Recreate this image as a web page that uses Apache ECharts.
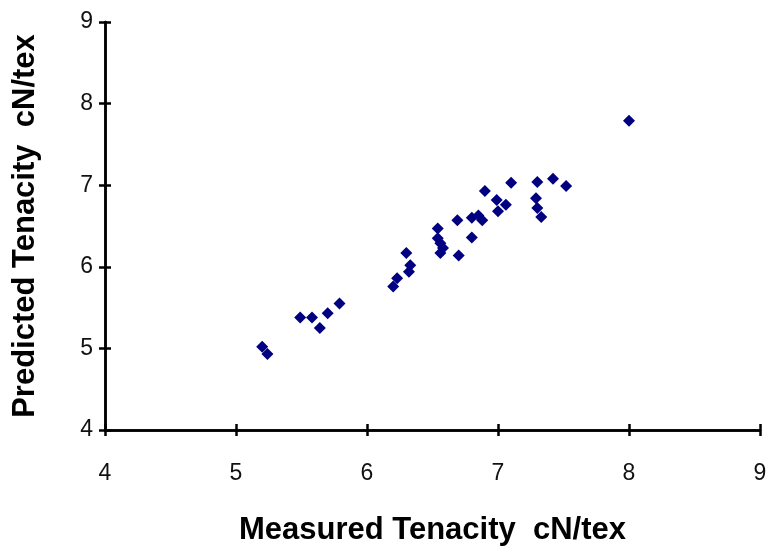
<!DOCTYPE html>
<html>
<head>
<meta charset="utf-8">
<script src="https://cdn.jsdelivr.net/npm/echarts@6/dist/echarts.min.js"></script>
<style>
  html, body { margin: 0; padding: 0; background: #fff; }
  #chart { width: 766px; height: 549px; }
</style>
</head>
<body>
<div id="chart"></div>
<script>
  // measured vs predicted tenacity (cN/tex)
  var measured = [5.20, 5.24, 5.49, 5.58, 5.64, 5.70, 5.79, 6.20, 6.23, 6.30, 6.32, 6.33,
    6.54, 6.54, 6.56, 6.58, 6.56, 6.69, 6.70, 6.80, 6.80, 6.85, 6.88, 6.90, 6.99,
    7.06, 7.00, 7.10, 7.30, 7.42, 7.52, 7.29, 7.30, 7.33, 8.00];
  var predicted = [5.02, 4.93, 5.38, 5.38, 5.25, 5.43, 5.55, 5.76, 5.86, 6.17, 5.94, 6.02,
    6.47, 6.35, 6.29, 6.23, 6.17, 6.57, 6.14, 6.36, 6.60, 6.63, 6.57, 6.93, 6.82,
    6.76, 6.68, 7.03, 7.04, 7.08, 6.99, 6.84, 6.72, 6.61, 7.79];

  var points = measured.map(function (m, i) { return [m, predicted[i]]; });

  var font = 'Liberation Sans, Arial, sans-serif';
  var lineStyle = { color: '#000', width: 2.5 };
  var box = { left: 105, right: 6, top: 22, bottom: 119, containLabel: false, outerBoundsMode: 'none' };

  var myChart = echarts.init(document.getElementById('chart'));
  var option = {
    animation: false,
    // second grid on top of the first only carries the inward half of the ticks
    grid: [box, box],
    xAxis: [
      {
        type: 'value', min: 4, max: 9, interval: 1, gridIndex: 0,
        name: 'Measured Tenacity  cN/tex',
        nameLocation: 'middle', nameGap: 85,
        nameTextStyle: { fontFamily: font, fontSize: 31, fontWeight: 'bold', color: '#000' },
        axisLine: { onZero: false, lineStyle: lineStyle },
        axisTick: { length: 6, lineStyle: lineStyle },
        axisLabel: { fontFamily: font, fontSize: 23, color: '#111', margin: 32 },
        splitLine: { show: false }
      },
      {
        type: 'value', min: 4, max: 9, interval: 1, gridIndex: 1,
        axisLine: { onZero: false, lineStyle: lineStyle },
        axisTick: { inside: true, length: 6, lineStyle: lineStyle },
        axisLabel: { show: false },
        splitLine: { show: false }
      }
    ],
    yAxis: [
      {
        type: 'value', min: 4, max: 9, interval: 1, gridIndex: 0,
        name: 'Predicted Tenacity  cN/tex',
        nameLocation: 'middle', nameGap: 64,
        nameTextStyle: { fontFamily: font, fontSize: 31, fontWeight: 'bold', color: '#000' },
        axisLine: { onZero: false, lineStyle: lineStyle },
        axisTick: { length: 6, lineStyle: lineStyle },
        axisLabel: { fontFamily: font, fontSize: 23, color: '#111', margin: 12 },
        splitLine: { show: false }
      },
      {
        type: 'value', min: 4, max: 9, interval: 1, gridIndex: 1,
        axisLine: { onZero: false, lineStyle: lineStyle },
        axisTick: { inside: true, length: 6, lineStyle: lineStyle },
        axisLabel: { show: false },
        splitLine: { show: false }
      }
    ],
    series: [
      {
        type: 'scatter',
        xAxisIndex: 0,
        yAxisIndex: 0,
        data: points,
        symbol: 'diamond',
        symbolSize: 12,
        itemStyle: { color: '#000080', opacity: 1 }
      }
    ]
  };
  myChart.setOption(option);
</script>
</body>
</html>
